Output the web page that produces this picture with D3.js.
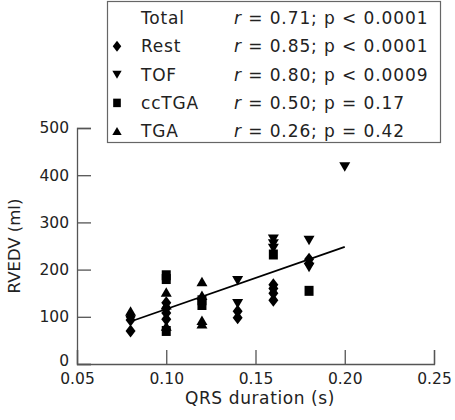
<!DOCTYPE html>
<html><head><meta charset="utf-8">
<script src="https://cdn.jsdelivr.net/npm/d3@7/dist/d3.min.js"></script>
<style>body{margin:0;background:#fff}svg{display:block}text{font-family:"DejaVu Sans",sans-serif;fill:#222}</style>
</head><body><svg id="c" width="455" height="420"></svg>
<script>
const xTicks=[0.05,0.10,0.15,0.20,0.25];
const yTicks=[0,100,200,300,400,500];
const restPts=[[0.08,100],[0.08,93],[0.08,70],[0.10,130],[0.10,118],[0.10,108],[0.10,95],[0.14,112],[0.14,98],[0.16,168],[0.16,160],[0.16,150],[0.16,135],[0.18,222],[0.18,213]];
const tofPts=[[0.14,177],[0.14,128],[0.16,265],[0.16,255],[0.16,245],[0.18,262],[0.18,205],[0.20,418]];
const ccTGAPts=[[0.10,188],[0.10,180],[0.10,70],[0.12,135],[0.12,125],[0.16,232],[0.18,155]];
const tgaPts=[[0.08,112],[0.10,152],[0.10,125],[0.10,80],[0.12,174],[0.12,145],[0.12,92],[0.12,85]];
const fitX=[0.08,0.20], fitY=[90,248];
const legendNames=["Total","Rest","TOF","ccTGA","TGA"];
const legendStats=["= 0.71; p < 0.0001","= 0.85; p < 0.0001","= 0.80; p < 0.0009","= 0.50; p = 0.17","= 0.26; p = 0.42"];

const FONT="'DejaVu Sans',sans-serif";
const svg=d3.select("#c");
const x=d3.scaleLinear().domain([0.05,0.25]).range([77,434]);
const y=d3.scaleLinear().domain([0,500]).range([364,128]);
const axisCol="#555";

// axes
const gx=svg.append("g").attr("transform","translate(0,364)")
  .call(d3.axisBottom(x).tickValues(xTicks).tickSize(-14).tickFormat(d3.format(".2f")).tickPadding(15));
const gy=svg.append("g").attr("transform","translate(77,0)")
  .call(d3.axisLeft(y).tickValues(yTicks).tickSize(-14).tickFormat(d3.format("d")).tickPadding(8));
[gx,gy].forEach(g=>{
  g.select(".domain").attr("stroke",axisCol).attr("stroke-width",1.3);
  g.selectAll(".tick line").attr("stroke",axisCol).attr("stroke-width",1.3);
  g.selectAll(".tick text").style("font-size","15.5px").attr("fill","#222").style("font-family",FONT);
});
gx.selectAll(".tick text").attr("dy","0.35em");
gy.selectAll(".tick text").filter(d=>d===0).attr("dy","0.1em");
svg.append("text").attr("x",260).attr("y",404).attr("text-anchor","middle").style("font-size","17px").style("letter-spacing","0.6px").text("QRS duration (s)");
svg.append("text").attr("transform","translate(20,246) rotate(-90)").attr("text-anchor","middle").style("font-size","16.5px").text("RVEDV (ml)");

// fit line
svg.append("line").attr("x1",x(fitX[0])).attr("y1",y(fitY[0])).attr("x2",x(fitX[1])).attr("y2",y(fitY[1]))
  .attr("stroke","#000").attr("stroke-width",1.8);

const shapes={
  diamond:"M0,-6.5L5,0L0,6.5L-5,0Z",
  down:"M-5.5,-4.5L5.5,-4.5L0,5Z",
  square:"M-4.5,-5L4.5,-5L4.5,5L-4.5,5Z",
  up:"M-5.5,4.5L5.5,4.5L0,-5Z"
};
function drawPts(data,shape){
  svg.append("g").selectAll("path").data(data).join("path")
    .attr("d",shapes[shape]).attr("transform",d=>`translate(${x(d[0])},${y(d[1])})`).attr("fill","#000");
}
drawPts(restPts,"diamond");drawPts(tofPts,"down");drawPts(ccTGAPts,"square");drawPts(tgaPts,"up");

// legend
svg.append("rect").attr("x",107.5).attr("y",1.5).attr("width",333).attr("height",141).attr("fill","#fff").attr("stroke","#666").attr("stroke-width",1.2);
const legShapes=[null,"diamond","down","square","up"];
const lg=svg.append("g");
legendNames.forEach((n,i)=>{
  const cy=18+i*28.3;
  if(legShapes[i]) lg.append("path").attr("d",shapes[legShapes[i]]).attr("transform",`translate(117,${cy}) scale(0.85)`).attr("fill","#000");
  lg.append("text").attr("x",141).attr("y",cy).attr("dy","0.36em").style("font-size","17px").style("letter-spacing","0.8px").text(n);
  const t=lg.append("text").attr("x",234).attr("y",cy).attr("dy","0.36em").style("font-size","17px").style("letter-spacing","0.9px");
  t.append("tspan").style("font-style","italic").text("r");
  t.append("tspan").text(" "+legendStats[i]);
});
</script></body></html>
